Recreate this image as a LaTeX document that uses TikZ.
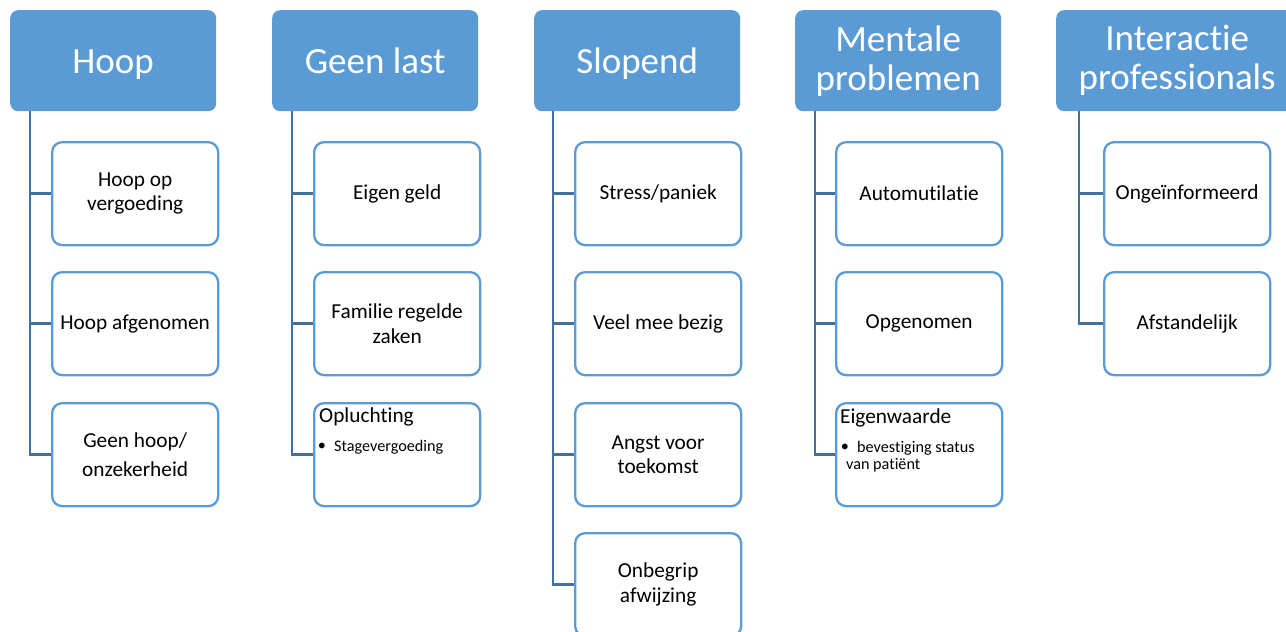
\documentclass[tikz,border=0pt]{standalone}
\usepackage{fontspec}
\setmainfont{Carlito}[Ligatures=NoCommon]
\definecolor{hdrblue}{HTML}{5B9BD5}
\definecolor{boxblue}{HTML}{5B9BD5}
\definecolor{lineblue}{HTML}{41719C}
\begin{document}
\begin{tikzpicture}[x=1pt,y=-1pt,
  hdr/.style={fill=hdrblue,draw=none,rounded corners=8pt,text=white,anchor=north west,
    minimum width=206pt,minimum height=101pt,inner sep=0pt,align=center,
    font=\fontsize{37}{39}\selectfont},
  hdrone/.style={hdr,text height=25pt,text depth=0pt},
  kid/.style={draw=boxblue,line width=2.3pt,fill=white,rounded corners=10pt,anchor=north west,
    minimum width=166pt,minimum height=103pt,inner sep=0pt,align=center,
    font=\fontsize{21.3}{24.5}\selectfont},
  kidtl/.style={draw=boxblue,line width=2.3pt,fill=white,rounded corners=10pt,anchor=north west,
    minimum width=166pt,minimum height=103pt,inner sep=0pt},
  conn/.style={draw=lineblue,line width=2.6pt},
  ttl/.style={anchor=west,inner sep=0pt,font=\fontsize{21.3}{24.5}\selectfont},
  sml/.style={anchor=west,inner sep=0pt,align=left,font=\fontsize{16.2}{17}\selectfont},
  blt/.style={anchor=center,inner sep=0pt,font=\fontsize{16.2}{17}\selectfont}
]
\useasboundingbox (0,0) rectangle (1286,632);
\clip (0,0) rectangle (1286,632);

% headers
\node[hdrone] (h1) at (10,10) {Hoop};
\node[hdrone] (h2) at (272,10) {Geen last};
\node[hdrone] (h3) at (534,10) {Slopend};
\node[hdr] (h4) at (795,10) {Mentale\\problemen};
\node[hdr,minimum width=242pt] (h5) at (1056,10) {Interactie\\professionals};

% trunk tops
\coordinate (t1) at (30,111);
\coordinate (t2) at (292,111);
\coordinate (t3) at (553,111);
\coordinate (t4) at (815,111);
\coordinate (t5) at (1079,111);

% column 1
\node[kid] (c1a) at (51,141) {Hoop op\\vergoeding};
\node[kid] (c1b) at (51,271) {Hoop afgenomen};
\node[kid] (c1c) at (51,402) {Geen hoop/\\[5pt]onzekerheid};

% column 2
\node[kid] (c2a) at (313,141) {Eigen geld};
\node[kid] (c2b) at (313,271) {Familie regelde\\zaken};
\node[kidtl] (c2c) at (313,402) {};
\node[ttl] (c2ct) at (319,417) {Opluchting};
\node[blt] (c2cb) at (322,447) {\textbullet};
\node[sml] (c2cs) at (334,447) {Stagevergoeding};

% column 3
\node[kid] (c3a) at (574,141) {Stress/paniek};
\node[kid] (c3b) at (574,271) {Veel mee bezig};
\node[kid] (c3c) at (574,402) {Angst voor\\toekomst};
\node[kid] (c3d) at (574,532) {Onbegrip\\afwijzing};

% column 4
\node[kid] (c4a) at (835,141) {Automutilatie};
\node[kid] (c4b) at (835,271) {Opgenomen};
\node[kidtl] (c4c) at (835,402) {};
\node[ttl] (c4ct) at (840,418) {Eigenwaarde};
\node[blt] (c4cb) at (845,448) {\textbullet};
\node[sml] (c4cs1) at (857,448) {bevestiging status};
\node[sml] (c4cs2) at (846,465) {van patiënt};

% column 5
\node[kid] (c5a) at (1103,141) {Ongeïnformeerd};
\node[kid] (c5b) at (1103,271) {Afstandelijk};

% connectors
\foreach \t/\c in {t1/c1a,t1/c1b,t1/c1c,t2/c2a,t2/c2b,t2/c2c,t3/c3a,t3/c3b,t3/c3c,t3/c3d,t4/c4a,t4/c4b,t4/c4c,t5/c5a,t5/c5b}
  \draw[conn] (\t) |- (\c.west);
\end{tikzpicture}
\end{document}
